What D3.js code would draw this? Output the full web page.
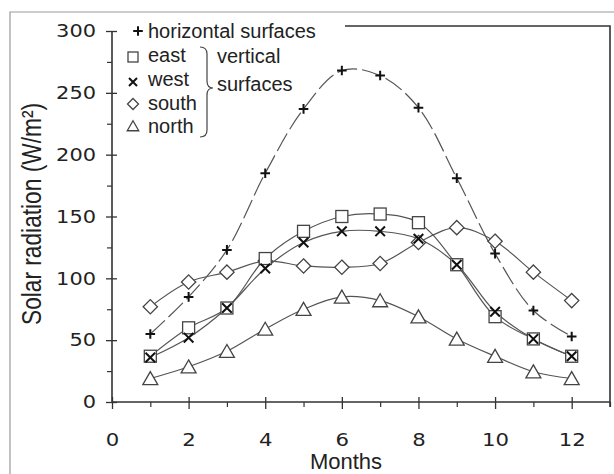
<!DOCTYPE html>
<html>
<head>
<meta charset="utf-8">
<script src="https://cdn.jsdelivr.net/npm/d3@7"></script>
<style>
  body { margin: 0; background: #fff; }
  svg { display: block; }
</style>
</head>
<body>
<div id="vis"></div>
<script>
// frame size
const FRAME_WIDTH = 614;
const FRAME_HEIGHT = 474;

// data (W/m2 per month)
const months = [1, 2, 3, 4, 5, 6, 7, 8, 9, 10, 11, 12];
const horizontal = [55, 85, 123, 185, 237, 268, 264, 238, 181, 120, 74, 53];
const east = [37, 60, 76, 116, 138, 150, 152, 145, 111, 69, 51, 37];
const west = [36, 52, 76, 108, 129, 138, 138, 132, 111, 73, 51, 37];
const south = [77, 97, 105, 114, 110, 109, 112, 129, 141, 130, 105, 82];
const north = [19, 28.5, 41, 59, 75, 85, 82, 69, 51, 37, 24.5, 19];

const yTicks = [0, 50, 100, 150, 200, 250, 300];
const yMinor = [25, 75, 125, 175, 225, 275];
const xTicks = [0, 2, 4, 6, 8, 10, 12];
const xMinor = [1, 3, 5, 7, 9, 11, 13];

const legendLabels = ["horizontal surfaces", "east", "west", "south", "north"];

const FRAME = d3.select("#vis").append("svg")
    .attr("width", FRAME_WIDTH)
    .attr("height", FRAME_HEIGHT);

// outer figure border
FRAME.append("path")
    .attr("d", "M10,474 L10,12 L614,12")
    .attr("fill", "none")
    .attr("stroke", "#999")
    .attr("stroke-width", 1.2);

const X_SCALE = d3.scaleLinear().domain([0, 13]).range([112, 610]);
const Y_SCALE = d3.scaleLinear().domain([0, 300]).range([402, 31]);

const LINE_COL = "#555";
const AXIS_COL = "#333";

// axes
const yAxis = FRAME.append("g")
    .attr("transform", "translate(" + X_SCALE(0) + ",0)")
    .call(d3.axisLeft(Y_SCALE).tickValues(yTicks).tickSize(6).tickPadding(10));
yAxis.select(".domain").remove();
yAxis.selectAll(".tick line").attr("x1", 5).attr("stroke", AXIS_COL).attr("stroke-width", 1.3);
yAxis.selectAll(".tick text")
    .attr("font-family", "DejaVu Sans")
    .attr("font-size", 18)
    .attr("fill", "#222")
    .attr("x", -16)
    .attr("textLength", (d) => String(d).length * 13.3)
    .attr("lengthAdjust", "spacingAndGlyphs");

const yMinorAxis = FRAME.append("g")
    .attr("transform", "translate(" + X_SCALE(0) + ",0)")
    .call(d3.axisLeft(Y_SCALE).tickValues(yMinor).tickSize(5).tickFormat(""));
yMinorAxis.select(".domain").remove();
yMinorAxis.selectAll(".tick line").attr("stroke", AXIS_COL).attr("stroke-width", 1.2);

const xAxis = FRAME.append("g")
    .attr("transform", "translate(0," + Y_SCALE(0) + ")")
    .call(d3.axisBottom(X_SCALE).tickValues(xTicks).tickSize(7).tickPadding(24));
xAxis.select(".domain").remove();
xAxis.selectAll(".tick line").attr("y1", -5).attr("stroke", AXIS_COL).attr("stroke-width", 1.3);
xAxis.selectAll(".tick text")
    .attr("font-family", "DejaVu Sans")
    .attr("font-size", 18)
    .attr("fill", "#222")
    .attr("textLength", (d) => String(d).length * 13.5)
    .attr("lengthAdjust", "spacingAndGlyphs");

const xMinorAxis = FRAME.append("g")
    .attr("transform", "translate(0," + Y_SCALE(0) + ")")
    .call(d3.axisBottom(X_SCALE).tickValues(xMinor).tickSize(5).tickFormat(""));
xMinorAxis.select(".domain").remove();
xMinorAxis.selectAll(".tick line").attr("stroke", AXIS_COL).attr("stroke-width", 1.2);

// axis lines and plot box (top edge starts after the legend)
FRAME.append("path")
    .attr("d", "M" + X_SCALE(0) + "," + Y_SCALE(300) + " L" + X_SCALE(0) + "," + Y_SCALE(0) +
          " L" + X_SCALE(13) + "," + Y_SCALE(0))
    .attr("fill", "none").attr("stroke", AXIS_COL).attr("stroke-width", 1.6);
FRAME.append("path")
    .attr("d", "M345,26 L" + X_SCALE(13) + ",26 L" + X_SCALE(13) + "," + (Y_SCALE(0) + 5))
    .attr("fill", "none").attr("stroke", AXIS_COL).attr("stroke-width", 1.6);

// axis titles
FRAME.append("text")
    .attr("transform", "translate(41,214) rotate(-90)")
    .attr("text-anchor", "middle")
    .attr("font-family", "Liberation Sans")
    .attr("font-size", 27)
    .attr("fill", "#222")
    .attr("textLength", 222)
    .attr("lengthAdjust", "spacingAndGlyphs")
    .text("Solar radiation (W/m²)");

FRAME.append("text")
    .attr("x", 346).attr("y", 469)
    .attr("text-anchor", "middle")
    .attr("font-family", "Liberation Sans")
    .attr("font-size", 22)
    .attr("fill", "#222")
    .text("Months");

// series lines
const series = [
  {name: "north", values: north, dash: null},
  {name: "south", values: south, dash: null},
  {name: "east", values: east, dash: null},
  {name: "west", values: west, dash: null},
  {name: "horizontal", values: horizontal, dash: "20,5"}
];

const line = d3.line()
    .x((d, i) => X_SCALE(months[i]))
    .y((d) => Y_SCALE(d))
    .curve(d3.curveCatmullRom.alpha(0.5));

series.forEach((s) => {
  FRAME.append("path")
      .attr("d", line(s.values))
      .attr("fill", "none")
      .attr("stroke", LINE_COL)
      .attr("stroke-width", 1.2)
      .attr("stroke-dasharray", s.dash);
});

// marker drawers
function drawMarker(g, kind, cx, cy, size) {
  const h = size / 2;
  if (kind === "east") {
    g.append("rect").attr("x", cx - h).attr("y", cy - h).attr("width", size).attr("height", size)
        .attr("fill", "#fff").attr("stroke", "#444").attr("stroke-width", 1.3);
  } else if (kind === "south") {
    const r = h * 1.1;
    g.append("path")
        .attr("d", "M" + cx + "," + (cy - r) + " L" + (cx + r) + "," + cy + " L" + cx + "," + (cy + r) +
              " L" + (cx - r) + "," + cy + "Z")
        .attr("fill", "#fff").attr("stroke", "#444").attr("stroke-width", 1.3);
  } else if (kind === "north") {
    const w = h * 1.15;
    g.append("path")
        .attr("d", "M" + cx + "," + (cy - h * 1.05) + " L" + (cx + w) + "," + (cy + h * 0.95) +
              " L" + (cx - w) + "," + (cy + h * 0.95) + "Z")
        .attr("fill", "#fff").attr("stroke", "#444").attr("stroke-width", 1.3);
  } else if (kind === "west") {
    const r = h * 0.8;
    g.append("path")
        .attr("d", "M" + (cx - r) + "," + (cy - r) + " L" + (cx + r) + "," + (cy + r) +
              " M" + (cx + r) + "," + (cy - r) + " L" + (cx - r) + "," + (cy + r))
        .attr("fill", "none").attr("stroke", "#111").attr("stroke-width", 2);
  } else {
    const r = h * 0.8;
    g.append("path")
        .attr("d", "M" + (cx - r) + "," + cy + " L" + (cx + r) + "," + cy +
              " M" + cx + "," + (cy - r) + " L" + cx + "," + (cy + r))
        .attr("fill", "none").attr("stroke", "#111").attr("stroke-width", 2);
  }
}

const markerSize = {north: 13, south: 13, east: 12, west: 12, horizontal: 12};
const marks = FRAME.append("g");
series.forEach((s) => {
  s.values.forEach((v, i) => {
    drawMarker(marks, s.name, X_SCALE(months[i]), Y_SCALE(v), markerSize[s.name]);
  });
});

// legend
const legend = FRAME.append("g");
const legendKinds = ["horizontal", "east", "west", "south", "north"];
const legendRows = [31, 57, 82, 104, 126];
const legendBase = [38, 62, 86, 110, 133];
legendKinds.forEach((k, i) => {
  drawMarker(legend, k, k === "horizontal" ? 138 : 133, legendRows[i], k === "horizontal" ? 12 : 10);
  legend.append("text")
      .attr("x", 148).attr("y", legendBase[i])
      .attr("font-family", "Liberation Sans")
      .attr("font-size", 20)
      .attr("fill", "#222")
      .text(legendLabels[i]);
});
legend.append("path")
    .attr("d", "M200,47 Q207,47 207,54 L207,81 Q207,88 213,88 Q207,88 207,95 L207,130 Q207,137 200,137")
    .attr("fill", "none").attr("stroke", "#444").attr("stroke-width", 1.2);
legend.append("text")
    .attr("x", 217).attr("y", 63)
    .attr("font-family", "Liberation Sans").attr("font-size", 20).attr("fill", "#222")
    .text("vertical");
legend.append("text")
    .attr("x", 217).attr("y", 91)
    .attr("font-family", "Liberation Sans").attr("font-size", 20).attr("fill", "#222")
    .text("surfaces");
</script>
</body>
</html>
